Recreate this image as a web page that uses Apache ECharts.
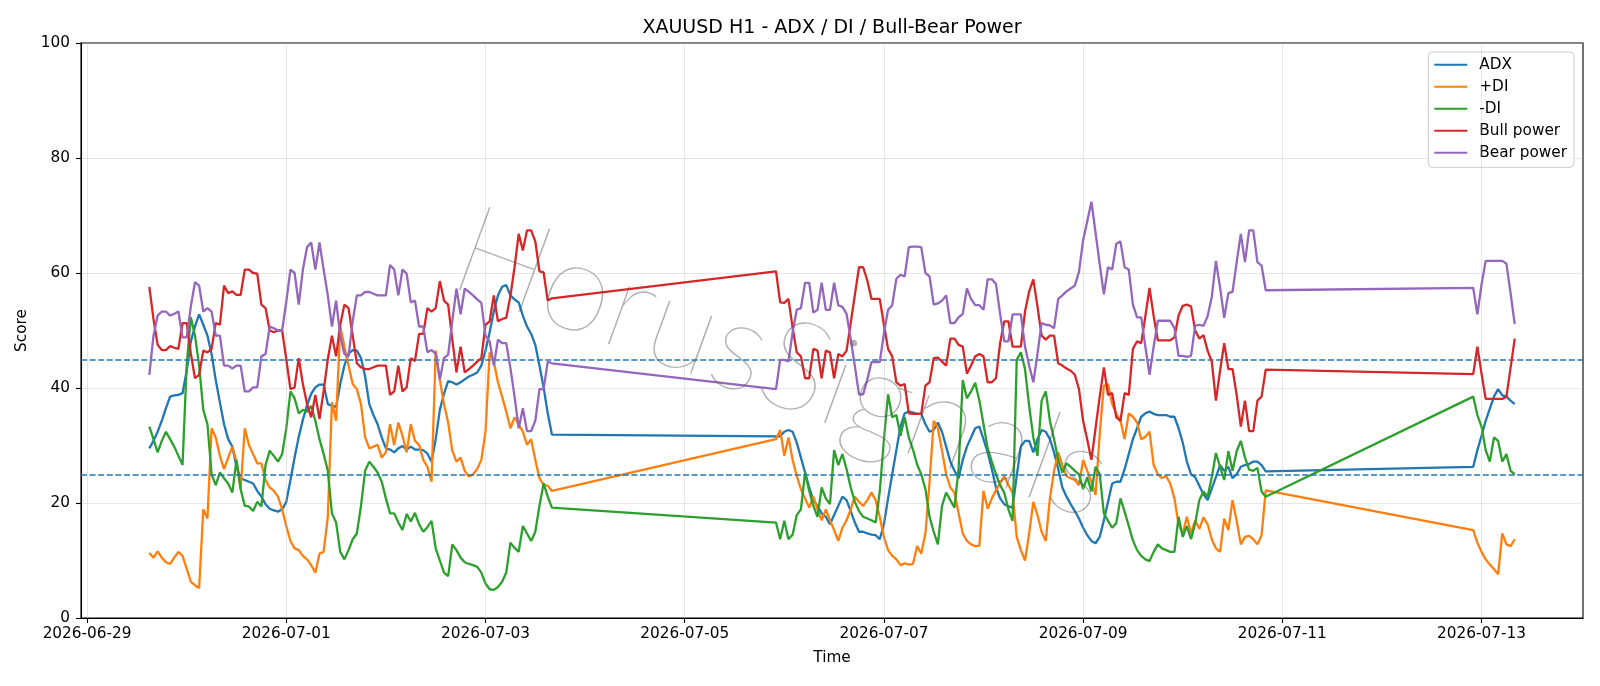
<!DOCTYPE html>
<html lang="en">
<head>
<meta charset="UTF-8">
<title>XAUUSD H1 - ADX / DI / Bull-Bear Power</title>
<style>
  * { margin: 0; padding: 0; }
  body { background: #fff; overflow: hidden; }
  #chart { width: 1600px; height: 686px; }
</style>
</head>
<body>
<div id="chart"></div>
<script src="https://cdn.jsdelivr.net/npm/echarts@6/dist/echarts.min.js"></script>
<script>
// hourly bars, three trading sessions (start, number of hours)
const sessions = [
  ['2026-06-29T15:00:00', 98],
  ['2026-07-05T22:00:00', 119],
  ['2026-07-12T22:00:00', 11]
];

const tickDates = ['2026-06-29', '2026-07-01', '2026-07-03', '2026-07-05',
  '2026-07-07', '2026-07-09', '2026-07-11', '2026-07-13'];

const adx = [
  29.5, 30.8, 32.4, 34.3, 36.5, 38.5, 38.7, 38.8, 39.1, 43.0,
  48.1, 50.7, 52.8, 51.0, 49.1, 45.9, 41.4, 37.5, 33.7, 31.1,
  29.8, 26.3, 24.3, 24.0, 23.7, 23.4, 22.1, 21.1, 19.8, 19.0,
  18.7, 18.5, 18.9, 20.2, 24.0, 27.9, 31.5, 34.5, 37.0, 39.0,
  40.1, 40.6, 40.6, 37.2, 36.9, 36.7, 40.7, 43.9, 46.0, 46.6,
  46.5, 45.2, 42.0, 37.2, 35.3, 33.7, 31.4, 29.5, 29.3, 28.8,
  29.5, 29.9, 29.3, 29.8, 29.3, 29.3, 29.2, 28.6, 27.2, 31.1,
  36.2, 39.0, 41.2, 41.0, 40.6, 41.0, 41.5, 42.0, 42.3, 42.7,
  43.9, 46.5, 49.7, 53.3, 56.1, 57.6, 57.9, 56.1, 55.4, 54.9,
  52.6, 50.7, 49.4, 47.5, 43.9, 40.1, 35.6, 31.9,
  31.6, 31.6, 32.4, 32.7, 32.4, 30.5, 27.9, 25.3, 22.7, 20.5,
  19.5, 18.2, 17.6, 16.3, 17.9, 19.5, 21.1, 20.5, 18.6, 16.6,
  15.0, 15.0, 14.7, 14.5, 14.4, 13.7, 16.3, 20.8, 25.0, 29.2,
  33.3, 35.6, 35.9, 35.7, 35.5, 35.5, 33.7, 32.4, 32.7, 34.0,
  32.4, 29.8, 27.2, 25.6, 24.3, 27.5, 29.8, 31.4, 33.0, 33.3,
  31.1, 28.8, 25.9, 22.7, 20.8, 19.8, 19.4, 19.2, 24.7, 29.8,
  30.8, 30.8, 28.8, 31.1, 32.7, 32.4, 31.1, 28.8, 25.9, 22.7,
  21.1, 19.8, 18.6, 17.3, 15.7, 14.4, 13.4, 13.0, 14.1, 17.0,
  20.2, 23.4, 23.7, 23.7, 25.9, 28.5, 31.1, 33.0, 35.0, 35.6,
  35.9, 35.5, 35.3, 35.3, 35.3, 35.0, 35.0, 33.0, 30.5, 27.2,
  25.0, 24.5, 23.0, 21.5, 20.5, 22.5, 24.5, 26.6, 25.6, 26.3,
  24.3, 25.0, 26.3, 26.6, 26.8, 27.2, 27.2, 26.6, 25.5,
  26.3, 29.2, 31.7, 34.3, 36.4, 38.5, 39.8, 38.7, 38.5, 37.8, 37.2
];

const plusDi = [
  11.3, 10.5, 11.6, 10.5, 9.7, 9.4, 10.5, 11.5, 10.8, 8.6,
  6.3, 5.7, 5.2, 18.9, 17.3, 33.0, 31.4, 28.2, 25.9, 27.9,
  29.8, 27.2, 22.4, 33.0, 30.1, 28.5, 26.9, 26.9, 24.0, 22.7,
  22.1, 21.1, 18.9, 16.0, 13.4, 12.1, 11.8, 10.8, 10.2, 9.2,
  7.9, 11.2, 11.5, 17.6, 37.5, 34.3, 50.7, 47.2, 43.9, 40.7,
  39.8, 37.2, 31.4, 29.5, 29.8, 30.1, 27.9, 28.8, 33.7, 30.1,
  34.0, 31.7, 28.8, 33.7, 30.8, 30.1, 27.5, 26.3, 23.7, 46.5,
  41.4, 37.2, 34.0, 29.1, 27.2, 27.9, 25.6, 24.6, 25.0, 25.9,
  27.5, 32.4, 46.2, 44.6, 41.0, 38.5, 35.9, 33.0, 34.9, 33.7,
  32.4, 30.1, 31.1, 27.5, 24.3, 23.2, 23.0, 22.1,
  31.1, 32.7, 28.2, 31.4, 27.5, 24.7, 22.4, 20.8, 19.2, 21.1,
  18.9, 17.0, 18.9, 17.0, 15.3, 13.4, 15.7, 17.0, 18.9, 21.1,
  20.2, 19.5, 20.5, 21.8, 20.5, 17.6, 14.1, 11.8, 10.8, 10.2,
  9.2, 9.5, 9.3, 9.4, 12.5, 11.2, 14.7, 23.7, 34.3, 33.0,
  29.1, 25.0, 22.7, 21.8, 18.2, 14.7, 13.4, 12.8, 12.5, 12.6,
  22.1, 19.0, 20.8, 22.2, 23.4, 24.7, 23.1, 21.8, 14.1, 11.8,
  10.0, 14.7, 20.2, 17.9, 15.0, 13.4, 20.8, 25.6, 28.8, 26.6,
  24.7, 24.3, 24.0, 23.1, 27.5, 25.6, 23.7, 21.4, 32.0, 40.4,
  40.7, 37.2, 35.5, 34.3, 31.1, 35.6, 35.0, 34.0, 31.1, 31.5,
  32.4, 26.6, 25.0, 24.3, 24.7, 23.4, 20.8, 16.3, 14.7, 17.6,
  14.7, 17.0, 15.5, 17.5, 16.3, 13.7, 12.1, 11.5, 17.3, 15.3,
  20.5, 16.9, 12.8, 14.1, 14.3, 13.7, 12.8, 14.4, 22.2,
  15.3, 13.1, 11.5, 10.2, 9.3, 8.5, 7.6, 14.7, 12.8, 12.5, 13.7
];

const minusDi = [
  33.3, 31.1, 28.8, 30.8, 32.4, 31.1, 29.8, 28.2, 26.6, 44.0,
  52.3, 49.1, 43.9, 36.2, 33.7, 25.0, 23.1, 25.3, 24.3, 23.4,
  21.8, 27.5, 22.4, 19.5, 19.4, 18.6, 20.2, 19.4, 26.6, 29.1,
  28.2, 27.2, 28.5, 33.0, 39.4, 38.2, 35.6, 36.2, 35.9, 36.9,
  34.3, 31.1, 28.5, 25.6, 18.2, 16.6, 11.5, 10.2, 11.8, 13.7,
  14.7, 19.5, 25.6, 27.2, 26.3, 25.3, 23.7, 20.8, 18.2, 18.2,
  16.6, 15.3, 18.1, 16.8, 18.3, 16.3, 15.0, 15.8, 16.9, 12.1,
  10.0, 7.9, 7.3, 12.8, 11.8, 10.5, 9.7, 9.4, 9.2, 8.9,
  7.9, 6.0, 5.0, 4.9, 5.4, 6.3, 7.9, 13.1, 12.2, 11.5,
  16.0, 14.7, 13.4, 15.0, 19.5, 23.4, 21.1, 19.2,
  16.6, 13.7, 16.9, 13.7, 14.5, 17.9, 18.9, 25.3, 22.1, 19.5,
  17.6, 22.7, 20.8, 19.8, 29.2, 26.6, 28.5, 25.9, 22.7, 20.2,
  18.6, 17.6, 17.3, 17.0, 16.6, 22.0, 31.0, 38.9, 34.9, 35.3,
  31.7, 34.9, 31.4, 29.3, 26.7, 25.0, 22.4, 17.6, 15.0, 12.8,
  19.5, 21.8, 20.5, 19.2, 26.0, 41.4, 38.2, 39.4, 40.9, 37.8,
  33.7, 29.5, 27.2, 25.0, 23.1, 21.8, 18.9, 16.9, 44.9, 46.2,
  43.3, 36.9, 31.4, 28.2, 37.8, 39.4, 34.3, 31.1, 27.5, 25.3,
  26.9, 26.3, 25.6, 25.0, 22.4, 24.5, 22.0, 26.3, 25.0, 18.2,
  16.9, 15.7, 16.5, 20.8, 18.5, 16.0, 13.5, 11.8, 10.8, 10.2,
  9.9, 11.5, 12.8, 12.1, 11.8, 11.5, 11.5, 17.6, 14.1, 16.0,
  13.7, 16.5, 20.5, 22.0, 21.1, 24.5, 28.7, 26.3, 24.0, 29.0,
  25.6, 29.0, 30.8, 27.9, 25.8, 25.6, 26.1, 22.0, 21.1,
  38.5, 35.3, 33.3, 29.2, 27.2, 31.4, 30.8, 27.2, 28.5, 25.6, 25.0
];

const bullPower = [
  57.6, 52.0, 47.5, 46.6, 46.6, 47.3, 47.0, 46.8, 51.3, 51.3,
  46.0, 41.7, 42.3, 46.5, 46.2, 46.8, 51.3, 51.0, 57.8, 56.5,
  56.8, 56.2, 56.2, 60.6, 60.6, 60.0, 59.9, 54.5, 53.9, 50.0,
  49.7, 50.0, 50.0, 45.0, 39.8, 40.1, 45.2, 40.7, 37.2, 34.9,
  38.8, 34.6, 39.5, 45.0, 49.1, 45.5, 51.0, 54.5, 53.9, 49.1,
  44.3, 43.6, 43.3, 43.3, 43.6, 43.9, 43.9, 43.9, 38.8, 39.4,
  43.9, 39.4, 40.1, 45.2, 44.7, 49.4, 49.4, 53.9, 53.3, 53.9,
  58.6, 55.2, 54.5, 48.4, 42.7, 47.2, 42.7, 43.3, 43.9, 44.6,
  45.2, 51.0, 51.6, 56.1, 51.6, 52.0, 52.2, 56.0, 61.0, 66.8,
  63.9, 67.4, 67.4, 65.5, 60.3, 60.1, 55.2, 55.6,
  60.3, 54.9, 54.8, 55.5, 50.5, 46.2, 45.5, 41.7, 41.7, 46.8,
  46.5, 41.7, 46.5, 46.2, 41.7, 45.9, 45.5, 46.5, 51.3, 56.2,
  61.0, 61.0, 58.7, 55.5, 55.5, 55.5, 51.0, 46.8, 45.5, 41.0,
  40.4, 40.7, 35.6, 35.5, 35.5, 35.5, 40.4, 41.0, 45.2, 45.3,
  44.6, 43.9, 48.6, 48.6, 47.5, 47.2, 42.5, 43.9, 45.5, 45.9,
  45.5, 41.0, 41.0, 41.7, 47.8, 51.6, 51.6, 47.2, 47.2, 47.2,
  53.3, 56.8, 58.9, 54.2, 49.1, 48.4, 49.1, 49.1, 44.3, 43.9,
  43.4, 43.0, 42.3, 39.8, 34.3, 31.0, 27.5, 33.0, 38.5, 43.6,
  38.8, 39.1, 34.9, 34.3, 39.1, 38.8, 46.8, 48.1, 47.8, 52.5,
  57.4, 52.5, 48.3, 48.3, 48.3, 48.3, 48.8, 52.6, 54.3, 54.5,
  54.2, 50.0, 48.6, 49.2, 46.5, 44.6, 37.8, 43.0, 47.8, 43.3,
  43.3, 38.8, 33.3, 37.8, 32.5, 32.5, 37.8, 38.5, 43.2,
  42.4, 47.2, 42.5, 38.1, 38.1, 38.1, 38.1, 38.1, 38.5, 43.5, 48.6
];

const bearPower = [
  42.3, 49.1, 52.6, 53.3, 53.3, 52.6, 52.9, 53.3, 48.8, 48.8,
  54.2, 58.4, 57.8, 53.3, 53.9, 53.3, 49.1, 49.1, 43.9, 43.9,
  43.4, 43.9, 43.9, 39.4, 39.4, 40.1, 40.1, 45.5, 45.9, 50.7,
  50.4, 50.0, 50.0, 55.0, 60.6, 60.0, 54.5, 60.6, 64.5, 65.3,
  60.6, 65.3, 60.6, 56.1, 50.7, 55.2, 49.1, 45.9, 45.5, 51.6,
  56.1, 56.1, 56.7, 56.7, 56.4, 56.1, 56.1, 56.1, 61.4, 60.6,
  56.1, 60.6, 59.9, 54.9, 55.2, 50.7, 50.7, 46.2, 46.6, 46.0,
  41.5, 45.2, 45.8, 51.6, 57.3, 52.8, 57.3, 56.7, 56.1, 55.4,
  54.8, 49.1, 48.1, 43.9, 48.4, 47.8, 47.8, 43.5, 38.5, 33.0,
  36.5, 32.5, 32.5, 34.3, 39.8, 39.8, 44.6, 44.3,
  39.8, 44.9, 44.9, 44.6, 49.7, 53.6, 53.9, 58.3, 58.3, 53.1,
  53.6, 58.3, 53.6, 53.6, 58.3, 54.4, 54.1, 52.9, 48.5, 43.8,
  38.9, 38.9, 41.5, 44.5, 44.5, 44.5, 49.5, 53.6, 54.4, 59.0,
  59.7, 59.4, 64.5, 64.6, 64.6, 64.5, 60.0, 59.4, 54.5, 54.7,
  55.2, 56.1, 51.3, 51.3, 52.3, 52.9, 57.3, 55.5, 54.4, 54.4,
  53.6, 58.9, 58.9, 58.1, 52.9, 48.1, 48.1, 52.8, 52.8, 52.8,
  47.2, 43.9, 41.0, 45.9, 51.3, 51.0, 50.9, 50.4, 55.5, 56.1,
  56.8, 57.3, 57.8, 60.2, 65.7, 69.0, 72.4, 67.0, 61.5, 56.3,
  61.0, 60.6, 65.1, 65.5, 61.0, 60.6, 54.5, 52.3, 52.3, 47.2,
  42.3, 47.2, 51.7, 51.7, 51.7, 51.7, 50.4, 45.6, 45.6, 45.4,
  45.6, 50.8, 51.0, 50.8, 52.5, 55.8, 62.1, 57.5, 52.2, 56.5,
  56.7, 61.9, 66.8, 61.9, 67.4, 67.4, 61.9, 61.3, 57.0,
  57.4, 52.8, 58.0, 62.1, 62.1, 62.1, 62.1, 62.1, 61.6, 56.5, 51.1
];

const seriesNames = ['ADX', '+DI', '-DI', 'Bull power', 'Bear power'];
const seriesColors = ['#1f77b4', '#ff7f0e', '#2ca02c', '#d62728', '#9467bd'];
const seriesValues = [adx, plusDi, minusDi, bullPower, bearPower];
const levels = [45, 25];

const times = [];
for (const [start, count] of sessions) {
  const t0 = new Date(start).getTime();
  for (let i = 0; i < count; i++) {
    times.push(t0 + i * 3600 * 1000);
  }
}

const FONT = 'DejaVu Sans';
const FS = 15.3;
const tickValues = tickDates.map(d => new Date(d + 'T00:00:00').getTime());

const pad2 = n => (n < 10 ? '0' : '') + n;
const fmtDate = v => {
  const d = new Date(v);
  return d.getFullYear() + '-' + pad2(d.getMonth() + 1) + '-' + pad2(d.getDate());
};

const chart = echarts.init(document.getElementById('chart'), null, { renderer: 'canvas' });

const lineSeries = seriesNames.map((name, k) => ({
  name: name,
  type: 'line',
  showSymbol: false,
  symbol: 'none',
  color: seriesColors[k],
  lineStyle: { width: 2.3, color: seriesColors[k] },
  z: 2 + k,
  data: times.map((t, i) => [t, seriesValues[k][i]])
}));

// dashed reference levels
lineSeries.push({
  name: 'levels',
  type: 'line',
  data: [],
  z: 10,
  markLine: {
    silent: true,
    symbol: 'none',
    label: { show: false },
    lineStyle: { color: '#1f77b4', type: [6, 2.6], width: 1.5 },
    data: levels.map(v => ({ yAxis: v }))
  }
});

// vertical grid lines at the date ticks
lineSeries.push({
  name: 'dateGrid',
  type: 'line',
  data: [],
  z: 1,
  markLine: {
    silent: true,
    symbol: 'none',
    label: { show: false },
    lineStyle: { color: 'rgba(176,176,176,0.3)', type: 'solid', width: 1 },
    data: tickValues.map(v => ({ xAxis: v }))
  }
});

chart.setOption({
  animation: false,
  backgroundColor: '#ffffff',
  title: {
    text: 'XAUUSD H1 - ADX / DI / Bull-Bear Power',
    left: 827,
    top: 14,
    textAlign: 'center',
    textStyle: { fontFamily: FONT, fontSize: 19, fontWeight: 'normal', color: '#000' }
  },
  grid: {
    left: 81, right: 17, top: 43, bottom: 68,
    show: true, borderColor: '#000', borderWidth: 1.1, backgroundColor: 'transparent'
  },
  legend: {
    data: seriesNames,
    orient: 'vertical',
    right: 26,
    top: 52,
    itemWidth: 33,
    itemHeight: 2,
    itemGap: 6.7,
    icon: 'rect',
    padding: [5, 7, 7, 6],
    borderColor: '#cccccc',
    borderWidth: 1,
    borderRadius: 4,
    backgroundColor: 'rgba(255,255,255,0.8)',
    textStyle: { fontFamily: FONT, fontSize: FS, color: '#000', lineHeight: 15.3, padding: [0, 0, 0, 7] }
  },
  xAxis: {
    type: 'value',
    min: new Date('2026-06-28T22:32:00').getTime(),
    max: new Date('2026-07-14T00:27:00').getTime(),
    name: 'Time',
    nameLocation: 'middle',
    nameGap: 33,
    nameTextStyle: { fontFamily: FONT, fontSize: FS, color: '#000' },
    axisLine: { show: true, onZero: false, lineStyle: { color: '#000', width: 1.1 } },
    axisTick: { show: true, length: 5, customValues: tickValues, lineStyle: { color: '#000', width: 1.1 } },
    axisLabel: {
      customValues: tickValues,
      margin: 9,
      fontFamily: FONT, fontSize: FS, color: '#000',
      formatter: v => fmtDate(v)
    },
    splitLine: { show: false }
  },
  yAxis: {
    type: 'value',
    min: 0,
    max: 100,
    interval: 20,
    name: 'Score',
    nameLocation: 'middle',
    nameGap: 44,
    nameRotate: 90,
    nameTextStyle: { fontFamily: FONT, fontSize: FS, color: '#000' },
    axisLine: { show: true, lineStyle: { color: '#000', width: 1.1 } },
    axisTick: { show: true, length: 5, lineStyle: { color: '#000', width: 1.1 } },
    axisLabel: { margin: 11, fontFamily: FONT, fontSize: FS, color: '#000' },
    splitLine: { show: true, lineStyle: { color: 'rgba(176,176,176,0.3)', width: 1 } }
  },
  graphic: [{
    type: 'text',
    x: 782,
    y: 364,
    rotation: -20 * Math.PI / 180,
    z: 100,
    silent: true,
    style: {
      text: 'HorusSignals',
      fontFamily: 'Lato',
      fontWeight: 200,
      fontSize: 126,
      fill: 'rgba(80,80,80,0.45)',
      align: 'center',
      verticalAlign: 'middle'
    }
  }],
  series: lineSeries
});
</script>
</body>
</html>
